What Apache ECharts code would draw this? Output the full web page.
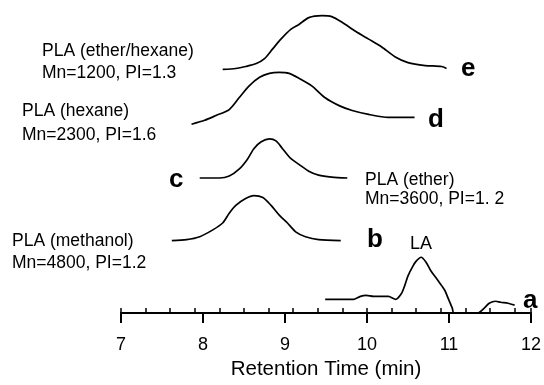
<!DOCTYPE html>
<html>
<head>
<meta charset="utf-8">
<script src="https://cdn.jsdelivr.net/npm/echarts@6/dist/echarts.min.js"></script>
<style>
html,body{margin:0;padding:0;background:#fff;}
#chart{width:544px;height:385px;}
</style>
</head>
<body>
<div id="chart"></div>
<script>
// Retention time (min) and detector signal for each trace; offsets stack the traces vertically.
var xTicks = [7, 8, 9, 10, 11, 12];

var aX = [9.49, 9.84, 9.92, 9.99, 10.08, 10.26, 10.35, 10.42, 10.46, 10.50, 10.56, 10.60, 10.66, 10.72, 10.78, 10.85, 10.91, 10.95, 10.99, 11.04, 11.06, 11.35, 11.43, 11.49, 11.57, 11.63, 11.72, 11.80];
var aY = [14, 14, 17, 18, 17, 17, 14, 20, 28, 38, 48, 53, 57, 52, 43, 35, 28, 23, 15, 5, 0, 0, 5, 10, 12, 11, 10, 8];
var aOffset = 0;

var bX = [7.62, 7.80, 7.96, 8.12, 8.24, 8.32, 8.40, 8.52, 8.62, 8.73, 8.83, 8.93, 9.03, 9.13, 9.25, 9.41, 9.68];
var bY = [0, 1, 4, 11, 18, 28, 36, 43, 46, 44, 36, 26, 18, 9, 4, 1, 0];
var bOffset = 74;

var cX = [7.96, 8.20, 8.32, 8.44, 8.54, 8.62, 8.71, 8.81, 8.89, 8.97, 9.07, 9.17, 9.29, 9.41, 9.57, 9.76];
var cY = [0, 0, 2, 9, 19, 30, 37, 40, 38, 30, 20, 14, 7, 3, 1, 0];
var cOffset = 138;

var dX = [7.86, 8.02, 8.16, 8.32, 8.44, 8.56, 8.69, 8.81, 8.93, 9.05, 9.17, 9.33, 9.49, 9.66, 9.82, 10.02, 10.26, 10.58];
var dY = [0, 4, 9, 15, 27, 39, 48, 52, 53, 52, 47, 39, 27, 19, 14, 10, 7, 7];
var dOffset = 193;

var eX = [8.24, 8.40, 8.52, 8.65, 8.75, 8.85, 8.95, 9.07, 9.17, 9.29, 9.45, 9.57, 9.70, 9.86, 10.02, 10.18, 10.34, 10.50, 10.71, 10.91, 10.97];
var eY = [0, 1, 3, 6, 11, 21, 31, 41, 46, 53, 55, 54, 48, 39, 31, 23, 13, 7, 4, 3, 1];
var eOffset = 249;

function pts(xs, ys, off) {
  return xs.map(function (x, i) { return [x, ys[i] + off]; });
}

var chart = echarts.init(document.getElementById('chart'), null, {renderer: 'canvas'});
var FONT = '"Liberation Sans", Arial, sans-serif';
var lineStyle = {color: '#000', width: 1.7};

function mk(name, data) {
  return {
    name: name, type: 'line', data: data, showSymbol: false, symbol: 'none', smooth: 0.25,
    lineStyle: lineStyle, itemStyle: {color: '#000'}, animation: false, silent: true
  };
}

function txt(x, y, s, opts) {
  opts = opts || {};
  return {
    type: 'text', left: x, top: y, silent: true,
    style: {
      text: s, fill: '#000', font: (opts.bold ? 'bold ' : '') + (opts.size || 17.5) + 'px ' + FONT
    }
  };
}

chart.setOption({
  animation: false,
  backgroundColor: '#fff',
  grid: {left: 121, right: 10.5, top: 0, bottom: 65},
  xAxis: [{
    type: 'value', min: 7, max: 12, interval: 1, position: 'bottom',
    axisLine: {show: true, lineStyle: {color: '#000', width: 2}},
    axisTick: {show: true, inside: false, length: 10, lineStyle: {color: '#000', width: 2}},
    axisLabel: {show: true, color: '#000', fontSize: 18, fontFamily: FONT, margin: 23,
      formatter: function (v) { return xTicks.indexOf(v) >= 0 ? String(v) : ''; }},
    splitLine: {show: false},
    name: 'Retention Time (min)', nameLocation: 'middle', nameGap: 46,
    nameTextStyle: {color: '#000', fontSize: 20.5, fontFamily: FONT}
  }, {
    type: 'value', min: 7, max: 12, interval: 0.3, position: 'bottom', gridIndex: 0,
    axisLine: {show: false},
    axisTick: {show: true, inside: true, length: 5, lineStyle: {color: '#000', width: 1.5}},
    axisLabel: {show: false},
    splitLine: {show: false}
  }],
  yAxis: {type: 'value', min: 0, max: 320, show: false},
  series: [
    mk('a', pts(aX, aY, aOffset)),
    mk('b', pts(bX, bY, bOffset)),
    mk('c', pts(cX, cY, cOffset)),
    mk('d', pts(dX, dY, dOffset)),
    mk('e', pts(eX, eY, eOffset))
  ],
  graphic: [
    txt(42, 42, 'PLA (ether/hexane)'),
    txt(42, 64, 'Mn=1200, PI=1.3'),
    txt(461, 56, 'e', {bold: true, size: 26}),
    txt(22, 102, 'PLA (hexane)'),
    txt(22, 126, 'Mn=2300, PI=1.6'),
    txt(428, 107, 'd', {bold: true, size: 26}),
    txt(169, 167, 'c', {bold: true, size: 26}),
    txt(365, 171, 'PLA (ether)'),
    txt(365, 190, 'Mn=3600, PI=1. 2'),
    txt(12, 232, 'PLA (methanol)'),
    txt(12, 254, 'Mn=4800, PI=1.2'),
    txt(367, 227, 'b', {bold: true, size: 26}),
    txt(410, 235, 'LA', {size: 18}),
    txt(523, 288, 'a', {bold: true, size: 26})
  ]
});
</script>
</body>
</html>
